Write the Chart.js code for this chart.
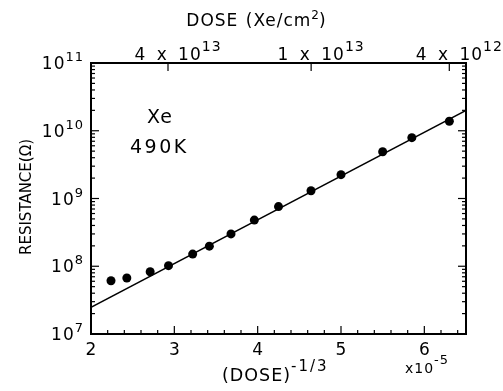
<!DOCTYPE html>
<html>
<head>
<meta charset="utf-8">
<script src="https://cdn.jsdelivr.net/npm/chart.js"></script>
<style>
  html, body { margin: 0; padding: 0; background: #fff; }
  canvas { display: block; }
</style>
</head>
<body>
<canvas id="chart" width="503" height="391"></canvas>
<script>
// measured points: (dose)^-1/3 in units of 1e-5, resistance in ohms
const doseInv = [2.24, 2.43, 2.71, 2.93, 3.22, 3.42, 3.68, 3.96, 4.25, 4.64, 5.00, 5.50, 5.85, 6.30];
const resistance = [6.1e7, 6.7e7, 8.3e7, 1.02e8, 1.51e8, 1.98e8, 3.0e8, 4.8e8, 7.6e8, 1.30e9, 2.25e9, 4.9e9, 7.9e9, 1.38e10];

// straight-line fit through the semilog data
const fitX = [2.0, 6.5];
const fitY = [2.48e7, 2.0e10];

// axis labels
const xTicks = [2, 3, 4, 5, 6];
const yExps = [7, 8, 9, 10, 11];
const topDoses = [4e13, 1e13, 4e12];
const topLabels = [['4 x 10', '13'], ['1 x 10', '13'], ['4 x 10', '12']];

const FONT = '"DejaVu Sans", sans-serif';

// draws a run of text pieces: [text, size, vertical shift, letter spacing, word spacing]
function drawParts(ctx, parts, x, y, align) {
  ctx.textAlign = 'left';
  ctx.textBaseline = 'alphabetic';
  const setup = p => {
    ctx.font = p[1] + 'px ' + FONT;
    ctx.letterSpacing = (p[3] || 0) + 'px';
    ctx.wordSpacing = (p[4] || 0) + 'px';
  };
  let total = 0;
  parts.forEach(p => { setup(p); total += ctx.measureText(p[0]).width; });
  let cx = align === 'right' ? x - total : align === 'center' ? x - total / 2 : x;
  parts.forEach(p => {
    setup(p);
    ctx.fillText(p[0], cx, y + (p[2] || 0));
    cx += ctx.measureText(p[0]).width;
  });
  ctx.letterSpacing = '0px';
  ctx.wordSpacing = '0px';
}

const frame = {
  id: 'frame',
  afterDraw(chart) {
    const { ctx, chartArea: a, scales: { x, y } } = chart;
    ctx.save();
    ctx.strokeStyle = '#000';
    ctx.fillStyle = '#000';
    ctx.lineWidth = 2;
    ctx.strokeRect(a.left, a.top, a.right - a.left, a.bottom - a.top);

    ctx.lineWidth = 1.2;
    const tick = (x1, y1, x2, y2) => { ctx.beginPath(); ctx.moveTo(x1, y1); ctx.lineTo(x2, y2); ctx.stroke(); };

    // bottom: every 0.2, longer on whole numbers
    for (let i = 0; i <= 22; i++) {
      const px = x.getPixelForValue(2 + i * 0.2);
      tick(px, a.bottom, px, a.bottom - (i % 5 === 0 ? 8 : 4));
    }
    // left and right: log decades with 2..9 minors
    for (let e = 7; e <= 10; e++) {
      for (let m = 1; m <= 9; m++) {
        const py = y.getPixelForValue(m * Math.pow(10, e));
        const len = m === 1 ? 8 : 4;
        tick(a.left, py, a.left + len, py);
        tick(a.right, py, a.right - len, py);
      }
    }
    // top: dose scale
    topDoses.forEach((d, i) => {
      const px = x.getPixelForValue(Math.pow(d, -1 / 3) * 1e5);
      tick(px, a.top, px, a.top + 8);
      drawParts(ctx, [[topLabels[i][0], 17, 0, 1, 4], [topLabels[i][1], 14, -9, 1]], px + 10, 60, 'center');
    });

    yExps.forEach(e => {
      const py = y.getPixelForValue(Math.pow(10, e));
      drawParts(ctx, [['10', 17, 0, 1], [String(e), 13, -8, 1]], 84, py + 6, 'right');
    });
    xTicks.forEach(v => {
      drawParts(ctx, [[String(v), 17, 0]], x.getPixelForValue(v), 355, 'center');
    });
    drawParts(ctx, [['x10', 14, 0, 1], ['-5', 13, -9, 1]], 405, 373, 'left');
    drawParts(ctx, [['(DOSE)', 17.5, 0, 1], ['-1/3', 15, -10, 2]], 222, 381, 'left');
    drawParts(ctx, [['DOSE (Xe/cm', 17, 0, 1, 1], ['2', 12, -7], [')', 17, 0]], 256, 26, 'center');

    drawParts(ctx, [['Xe', 19, 0, 1]], 147, 123, 'left');
    drawParts(ctx, [['490K', 19, 0, 2.5]], 130, 153, 'left');

    ctx.translate(31, 197);
    ctx.rotate(-Math.PI / 2);
    drawParts(ctx, [['RESISTANCE(Ω)', 15, 0]], 0, 0, 'center');
    ctx.restore();
  }
};

new Chart(document.getElementById('chart'), {
  type: 'scatter',
  data: {
    datasets: [
      {
        data: doseInv.map((v, i) => ({ x: v, y: resistance[i] })),
        pointRadius: 4.5,
        pointBorderWidth: 0,
        backgroundColor: '#000',
        borderColor: '#000'
      },
      {
        type: 'line',
        data: fitX.map((v, i) => ({ x: v, y: fitY[i] })),
        borderColor: '#000',
        borderWidth: 1.4,
        pointRadius: 0,
        fill: false
      }
    ]
  },
  options: {
    responsive: false,
    animation: false,
    devicePixelRatio: 1,
    layout: { padding: { top: 63, right: 37, left: 0, bottom: 0 } },
    plugins: { legend: { display: false }, tooltip: { enabled: false } },
    scales: {
      x: {
        type: 'linear', min: 2, max: 6.5,
        grid: { display: false }, border: { display: false }, ticks: { display: false },
        afterFit(s) { s.height = 57; }
      },
      y: {
        type: 'logarithmic', min: 1e7, max: 1e11,
        grid: { display: false }, border: { display: false }, ticks: { display: false },
        afterFit(s) { s.width = 91; }
      }
    }
  },
  plugins: [frame]
});
</script>
</body>
</html>
